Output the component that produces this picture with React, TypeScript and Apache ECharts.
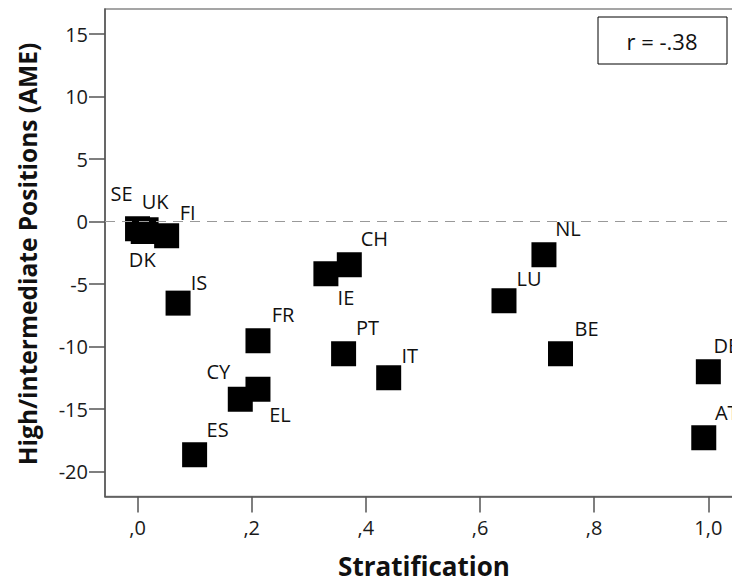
import React, { useEffect, useRef } from "react";
import * as echarts from "echarts";

const countries = ["SE", "DK", "UK", "FI", "IS", "ES", "CY", "FR", "EL", "IE", "CH", "PT", "IT", "LU", "NL", "BE", "DE", "AT"];
const stratification = [0.0, 0.01, 0.015, 0.051, 0.071, 0.1, 0.18, 0.211, 0.211, 0.33, 0.371, 0.361, 0.44, 0.642, 0.712, 0.741, 1.0, 0.992];
const ame = [-0.58, -0.8, -0.66, -1.14, -6.53, -18.66, -14.22, -9.54, -13.42, -4.18, -3.46, -10.58, -12.5, -6.34, -2.66, -10.58, -12.02, -17.3];
const xTicks = [0, 0.2, 0.4, 0.6, 0.8, 1.0];
const yTicks = [-20, -15, -10, -5, 0, 5, 10, 15];
const correlationText = "r = -.38";
const xTitle = "Stratification";
const yTitle = "High/intermediate Positions (AME)";

// label placement (style only)
const labelOffsets: Record<string, [number, number]> = {
  SE: [-16, -35], DK: [-1, 28], UK: [9, -28], FI: [21, -23], IS: [21, -21], ES: [23, -25],
  CY: [-22, -28], FR: [25, -26], EL: [22, 25], IE: [20, 24], CH: [25, -26], PT: [24, -26],
  IT: [21, -22], LU: [25, -22], NL: [24, -26], BE: [26, -25], DE: [18, -26], AT: [23, -25],
};

const FONT = "'Open Sans', 'DejaVu Sans', sans-serif";

function fmtX(v: number) {
  let s = v.toFixed(1).replace(".", ",");
  if (s.startsWith("0,")) s = s.slice(1);
  return s;
}

export default function App() {
  const ref = useRef<HTMLDivElement>(null);
  useEffect(() => {
    if (!ref.current) return;
    const chart = echarts.init(ref.current, undefined, { renderer: "svg" });
    const data = countries.map((c, i) => ({
      name: c,
      value: [stratification[i], ame[i]],
      label: { offset: labelOffsets[c] },
    }));
    const axisColor = "#555";
    chart.setOption({
      animation: false,
      backgroundColor: "#fff",
      grid: {
        left: 105,
        right: -22,
        top: 9,
        bottom: 86.5,
        containLabel: false,
        outerBoundsMode: "none",
        show: true,
        borderColor: "#888",
        borderWidth: 1.5,
        backgroundColor: "#fff",
      },
      xAxis: {
        type: "value",
        min: -0.057,
        max: 1.08,
        axisLine: { show: true, onZero: false, lineStyle: { color: axisColor, width: 1.5 } },
        axisTick: { show: true, length: 16, customValues: xTicks, lineStyle: { color: axisColor, width: 1.5 } },
        axisLabel: {
          customValues: xTicks,
          formatter: fmtX,
          fontSize: 20,
          color: "#1a1a1a",
          margin: 21,
          fontFamily: FONT,
        },
        splitLine: { show: false },
      },
      yAxis: {
        type: "value",
        min: -22,
        max: 17,
        axisLine: { show: true, onZero: false, lineStyle: { color: axisColor, width: 1.5 } },
        axisTick: { show: true, length: 16, customValues: yTicks, lineStyle: { color: axisColor, width: 1.5 } },
        axisLabel: {
          customValues: yTicks,
          fontSize: 20,
          color: "#1a1a1a",
          margin: 17,
          fontFamily: FONT,
        },
        splitLine: { show: false },
      },
      series: [
        {
          type: "scatter",
          symbol: "rect",
          symbolSize: 25,
          itemStyle: { color: "#000", opacity: 1 },
          label: {
            show: true,
            position: "inside",
            formatter: "{b}",
            fontSize: 20,
            color: "#111",
            fontFamily: FONT,
          },
          data,
          markLine: {
            silent: true,
            symbol: "none",
            label: { show: false },
            lineStyle: { color: "#999", type: [10, 7], width: 1, opacity: 1 },
            data: [{ yAxis: 0 }],
          },
        },
      ],
      graphic: [
        {
          type: "rect",
          shape: { x: 598, y: 17, width: 129, height: 47 },
          style: { fill: "#fff", stroke: "#000", lineWidth: 1 },
          z: 100,
        },
        {
          type: "text",
          x: 662,
          y: 41,
          z: 101,
          style: {
            text: correlationText,
            fontSize: 22,
            fontFamily: FONT,
            fill: "#111",
            align: "center",
            verticalAlign: "middle",
          },
        },
        {
          type: "text",
          x: 424,
          y: 566,
          style: {
            text: xTitle,
            fontSize: 26,
            fontWeight: "bold",
            fontFamily: FONT,
            fill: "#111",
            align: "center",
            verticalAlign: "middle",
          },
        },
        {
          type: "text",
          x: 27,
          y: 254,
          rotation: Math.PI / 2,
          style: {
            text: yTitle,
            fontSize: 24.5,
            fontWeight: "bold",
            fontFamily: FONT,
            fill: "#111",
            align: "center",
            verticalAlign: "middle",
          },
        },
      ],
    });
    return () => chart.dispose();
  }, []);
  return (
    <div style={{ position: "fixed", left: 0, top: 0, width: 732, height: 583, overflow: "hidden", background: "#fff" }}>
      <div ref={ref} style={{ width: 732, height: 583 }} />
    </div>
  );
}
